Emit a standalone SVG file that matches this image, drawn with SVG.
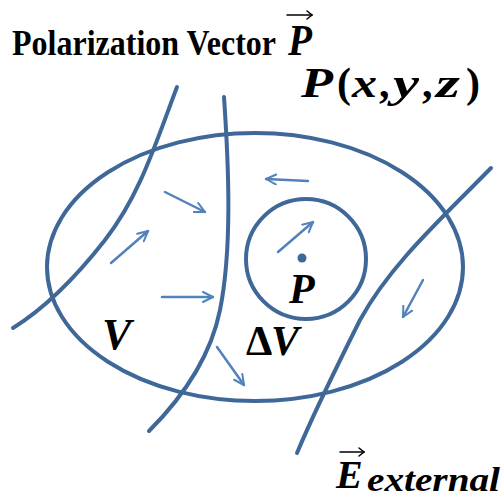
<svg xmlns="http://www.w3.org/2000/svg" width="501" height="502" viewBox="0 0 501 502">
<defs>
<style>
.main{fill:none;stroke:#3f6899;stroke-width:4;stroke-linecap:round}
.arr{fill:none;stroke:#5282bb;stroke-width:2.5;stroke-linecap:round}
.t{font-family:"Liberation Serif",serif;font-weight:bold;fill:#000}
.m{font-family:"Liberation Serif",serif;font-weight:bold;font-style:italic;fill:#000}
.u{font-family:"Liberation Serif",serif;font-weight:bold;font-style:normal;fill:#000}
.vec{fill:none;stroke:#000;stroke-width:1.5;stroke-linecap:round}
</style>
<marker id="ah" viewBox="0 0 12 12" refX="11" refY="6" markerWidth="12" markerHeight="12" markerUnits="userSpaceOnUse" orient="auto">
<polyline points="1,1 11,6 1,11" fill="none" stroke="#5282bb" stroke-width="2" stroke-linecap="round" stroke-linejoin="round"/>
</marker>
</defs>
<rect width="501" height="502" fill="#fff"/>
<g id="region-V">
<ellipse class="main" cx="255" cy="267" rx="208" ry="134"/>
</g>
<g id="region-dV">
<circle class="main" cx="306" cy="259" r="60"/>
<circle cx="302" cy="258" r="4.5" fill="#3f6899"/>
</g>
<g id="field-lines">
<path class="main" d="M177,87 C155,145 140,195 105,240 C80,272 50,305 13,328"/>
<path class="main" d="M224,97 C229,170 232,250 220,310 C210,360 180,400 149,431"/>
<path class="main" d="M491,168 C440,220 390,265 360,320 C340,360 315,410 297,453"/>
</g>
<g id="connectors">
<line class="arr" x1="165" y1="192" x2="205" y2="212" marker-end="url(#ah)"/>
<line class="arr" x1="111" y1="263" x2="148" y2="231" marker-end="url(#ah)"/>
<line class="arr" x1="162" y1="297" x2="213" y2="297" marker-end="url(#ah)"/>
<line class="arr" x1="308" y1="181" x2="266" y2="179" marker-end="url(#ah)"/>
<line class="arr" x1="278" y1="252" x2="313" y2="222" marker-end="url(#ah)"/>
<line class="arr" x1="423" y1="280" x2="403" y2="317" marker-end="url(#ah)"/>
<line class="arr" x1="217" y1="347" x2="244" y2="385" marker-end="url(#ah)"/>
</g>
<g id="title">
<text class="t" x="12" y="55" font-size="36" textLength="264" lengthAdjust="spacingAndGlyphs">Polarization Vector</text>
<text class="m" x="288" y="55" font-size="44" textLength="24" lengthAdjust="spacingAndGlyphs">P</text>
<line class="vec" x1="287" y1="15" x2="312" y2="15"/>
<polyline class="vec" points="307,11 312,15 307,19"/>
</g>
<g id="labels">
<text class="m" x="301" y="97" font-size="42" textLength="32" lengthAdjust="spacingAndGlyphs">P</text>
<text class="u" x="337" y="97" font-size="42">(</text>
<text class="m" x="352" y="97" font-size="42" textLength="25" lengthAdjust="spacingAndGlyphs">x</text>
<text class="u" x="379" y="97" font-size="42">,</text>
<text class="m" x="393" y="97" font-size="42" textLength="26" lengthAdjust="spacingAndGlyphs">y</text>
<text class="u" x="422" y="97" font-size="42">,</text>
<text class="m" x="436" y="97" font-size="42" textLength="24" lengthAdjust="spacingAndGlyphs">z</text>
<text class="u" x="466" y="97" font-size="42">)</text>
<text class="m" x="102" y="349" font-size="44">V</text>
<text class="u" x="246" y="355" font-size="42">Δ</text>
<text class="m" x="271" y="355" font-size="42">V</text>
<text class="m" x="289" y="303" font-size="42">P</text>
<text class="m" x="336" y="488" font-size="40">E</text>
<text class="m" x="367" y="491" font-size="34" textLength="133" lengthAdjust="spacingAndGlyphs">external</text>
<line class="vec" x1="340" y1="452" x2="364" y2="452"/>
<polyline class="vec" points="359,448 364,452 359,456"/>
</g>
</svg>
